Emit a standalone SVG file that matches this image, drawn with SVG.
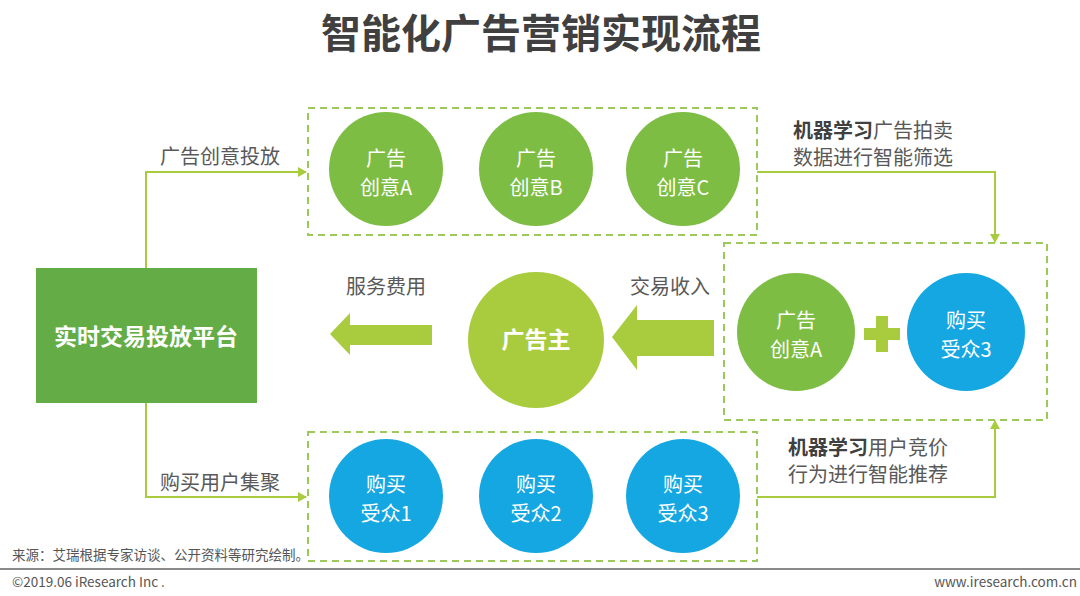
<svg xmlns="http://www.w3.org/2000/svg" width="1080" height="596" viewBox="0 0 1080 596">
<defs>
<style>
text{font-family:"Noto Sans CJK SC","Noto Sans",sans-serif;}
.title{font-size:40px;font-weight:bold;fill:#404040;}
.lbl{font-size:20px;fill:#595959;}
.lblb{font-size:20px;fill:#404040;font-weight:bold;}
.ct{font-size:20px;fill:#ffffff;text-anchor:middle;}
.dash{fill:none;stroke:#9cc85c;stroke-width:2;stroke-dasharray:7 5;}
.conn{fill:none;stroke:#a9cc3e;stroke-width:2;}
.g{fill:#7dbd43;}
.b{fill:#15a7e1;}
.foot{font-size:13.5px;fill:#555555;}
</style>
<marker id="ah" markerWidth="10" markerHeight="10" refX="8" refY="5" orient="auto" markerUnits="userSpaceOnUse">
<path d="M0,0 L9,5 L0,10 Z" fill="#a9cc3e"/>
</marker>
</defs>
<rect width="1080" height="596" fill="#ffffff"/>
<text class="title" x="541" y="48" text-anchor="middle">智能化广告营销实现流程</text>

<g id="connectors">
<path class="conn" d="M146,268 V172 H306" marker-end="url(#ah)"/>
<path class="conn" d="M146,403 V497 H306" marker-end="url(#ah)"/>
<path class="conn" d="M757,172 H995 V242" marker-end="url(#ah)"/>
<path class="conn" d="M757,497 H995 V421" marker-end="url(#ah)"/>
<path d="M330,334 L350,313 L350,325 L432,325 L432,345 L350,345 L350,355 Z" fill="#a9cc3e"/>
<path d="M612,337 L637,305 L637,320 L714,320 L714,356 L637,356 L637,370 Z" fill="#a9cc3e"/>
<text class="lbl" x="160" y="164">广告创意投放</text>
<text class="lbl" x="160" y="490">购买用户集聚</text>
<text class="lbl" x="386" y="294" text-anchor="middle">服务费用</text>
<text class="lbl" x="670" y="294" text-anchor="middle">交易收入</text>
<text x="793" y="138" class="lbl"><tspan class="lblb">机器学习</tspan>广告拍卖</text>
<text x="793" y="165" class="lbl">数据进行智能筛选</text>
<text x="788" y="455" class="lbl"><tspan class="lblb">机器学习</tspan>用户竞价</text>
<text x="788" y="482" class="lbl">行为进行智能推荐</text>
</g>

<g id="platform">
<rect x="36" y="268" width="221" height="135" fill="#64ad46"/>
<text x="146" y="345" font-size="23" font-weight="bold" fill="#ffffff" text-anchor="middle">实时交易投放平台</text>
</g>

<g id="creatives">
<rect class="dash" x="308" y="108" width="449" height="127"/>
<circle class="g" cx="386" cy="169" r="57"/>
<text class="ct" x="386" y="166">广告</text><text class="ct" x="386" y="195">创意A</text>
<circle class="g" cx="536" cy="169" r="57"/>
<text class="ct" x="536" y="166">广告</text><text class="ct" x="536" y="195">创意B</text>
<circle class="g" cx="683" cy="169" r="57"/>
<text class="ct" x="683" y="166">广告</text><text class="ct" x="683" y="195">创意C</text>
</g>

<g id="audiences">
<rect class="dash" x="308" y="432" width="449" height="129"/>
<circle class="b" cx="386" cy="496" r="57"/>
<text class="ct" x="386" y="492">购买</text><text class="ct" x="386" y="521">受众1</text>
<circle class="b" cx="536" cy="496" r="57"/>
<text class="ct" x="536" y="492">购买</text><text class="ct" x="536" y="521">受众2</text>
<circle class="b" cx="683" cy="496" r="57"/>
<text class="ct" x="683" y="492">购买</text><text class="ct" x="683" y="521">受众3</text>
</g>

<g id="match">
<rect class="dash" x="724" y="243" width="323" height="177"/>
<circle class="g" cx="796" cy="332" r="59"/>
<text class="ct" x="796" y="328">广告</text><text class="ct" x="796" y="357">创意A</text>
<path d="M876,316 H888 V328 H900 V340 H888 V352 H876 V340 H864 V328 H876 Z" fill="#a9cc3e"/>
<circle class="b" cx="966" cy="332" r="59"/>
<text class="ct" x="966" y="328">购买</text><text class="ct" x="966" y="357">受众3</text>
</g>

<g id="advertiser">
<circle cx="536" cy="340" r="68" fill="#a9cc3e"/>
<text x="536" y="348" font-size="23" font-weight="bold" fill="#ffffff" text-anchor="middle">广告主</text>
</g>

<g id="footer">
<text class="foot" x="12" y="560">来源：艾瑞根据专家访谈、公开资料等研究绘制。</text>
<line x1="0" y1="569" x2="1080" y2="569" stroke="#8a8a8a" stroke-width="2"/>
<text class="foot" x="12" y="587">©2019.06 iResearch Inc .</text>
<text class="foot" x="1077" y="587" text-anchor="end">www.iresearch.com.cn</text>
</g>
</svg>
